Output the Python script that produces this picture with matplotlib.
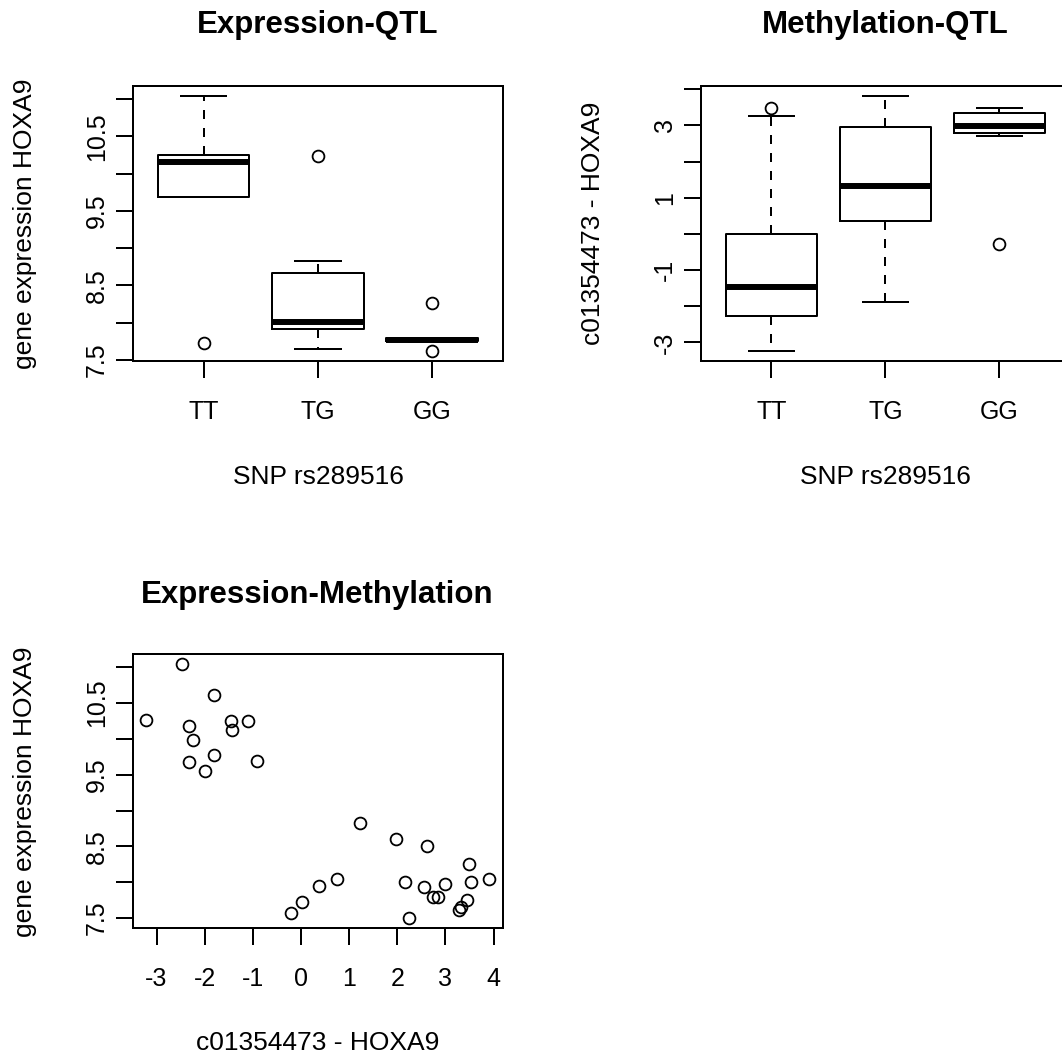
import matplotlib
matplotlib.use("Agg")
import matplotlib.pyplot as plt
import numpy as np

plt.rcParams['font.family'] = ['Liberation Sans', 'DejaVu Sans']

# ---------------- data ----------------
genotypes = ["TT", "TG", "GG"]

# Expression-QTL box statistics (gene expression HOXA9)
expr_whislo = [9.68, 7.65, 7.745]
expr_q1     = [9.68, 7.91, 7.75]
expr_med    = [10.16, 8.01, 7.77]
expr_q3     = [10.25, 8.66, 7.79]
expr_whishi = [11.04, 8.82, 7.795]
expr_fliers = [[7.72], [10.24], [8.26, 7.62]]

# Methylation-QTL box statistics (c01354473 - HOXA9)
meth_whislo = [-3.23, -1.88, 2.72]
meth_q1     = [-2.28, 0.35, 2.79]
meth_med    = [-1.47, 1.34, 2.99]
meth_q3     = [0.01, 2.96, 3.34]
meth_whishi = [3.25, 3.81, 3.47]
meth_fliers = [[3.47], [], [-0.27]]

# Expression vs methylation scatter
scatter_meth = [-3.21, -2.48, -2.33, -2.25, -2.33, -2.00, -1.81, -1.80, -1.45, -1.43,
                -1.10, -0.92, -0.21, 0.03, 0.37, 0.75, 1.23, 1.97, 2.15, 2.24,
                2.56, 2.62, 2.75, 2.85, 2.99, 3.28, 3.33, 3.44, 3.49, 3.53, 3.90]
scatter_expr = [10.26, 11.04, 10.18, 9.98, 9.68, 9.56, 10.62, 9.77, 10.25, 10.13,
                10.25, 9.69, 7.57, 7.72, 7.95, 8.04, 8.83, 8.60, 8.00, 7.50,
                7.94, 8.50, 7.79, 7.79, 7.98, 7.62, 7.65, 7.75, 8.26, 8.00, 8.05]

expr_ticks = [7.5, 8.0, 8.5, 9.0, 9.5, 10.0, 10.5, 11.0]
expr_ticklabels = ["7.5", "", "8.5", "", "9.5", "", "10.5", ""]
meth_ticks = [-3, -2, -1, 0, 1, 2, 3, 4]
meth_ticklabels = ["-3", "", "-1", "", "1", "", "3", ""]
scat_xticks = [-3, -2, -1, 0, 1, 2, 3, 4]
scat_xticklabels = ["-3", "-2", "-1", "0", "1", "2", "3", "4"]

titles = ["Expression-QTL", "Methylation-QTL", "Expression-Methylation"]
ylab_expr = "gene expression HOXA9"
lab_meth = "c01354473 - HOXA9"
xlab_snp = "SNP rs289516"

# ---------------- styling ----------------
W, H = 1062, 1056
fig = plt.figure(figsize=(W / 100, H / 100), dpi=100)
LW = 1.44
TITLE_FS = 22.5
LAB_FS = 19
TICK_FS = 18

def px_axes(left, top, right, bottom):
    return fig.add_axes([left / W, 1 - bottom / H, (right - left) / W, (bottom - top) / H])

def style_axes(ax):
    for s in ax.spines.values():
        s.set_linewidth(LW)
        s.set_color("black")
    ax.tick_params(axis="both", length=12, width=LW, color="black",
                   labelsize=TICK_FS)
    ax.tick_params(axis="x", pad=16)
    ax.tick_params(axis="y", pad=5, labelrotation=90)
    for lab in ax.get_yticklabels():
        lab.set_va("center")

def rlim(vals):
    lo, hi = min(vals), max(vals)
    r = hi - lo
    return lo - 0.04 * r, hi + 0.04 * r

def boxes(ax, wlo, q1, med, q3, whi, fl):
    stats = []
    for i in range(len(genotypes)):
        stats.append(dict(whislo=wlo[i], q1=q1[i], med=med[i], q3=q3[i],
                          whishi=whi[i], fliers=fl[i], label=genotypes[i]))
    ax.bxp(stats, positions=[1, 2, 3], widths=0.8, capwidths=0.4,
           patch_artist=False, showfliers=True,
           boxprops=dict(color="black", linewidth=LW),
           medianprops=dict(color="black", linewidth=4.3, solid_capstyle="butt"),
           whiskerprops=dict(color="black", linewidth=LW, linestyle=(0, (4.5, 4.5))),
           capprops=dict(color="black", linewidth=LW),
           flierprops=dict(marker="o", markerfacecolor="none", markeredgecolor="black",
                           markersize=8.5, markeredgewidth=1.3, linestyle="none"))
    ax.set_xlim(0.38, 3.62)
    ax.set_xticks([1, 2, 3])
    ax.set_xticklabels(genotypes)

def ftext(x, y, s, **kw):
    fig.text(x / W, 1 - y / H, s, **kw)

# Panel 1: Expression-QTL
ax1 = px_axes(132.7, 86, 503, 361)
boxes(ax1, expr_whislo, expr_q1, expr_med, expr_q3, expr_whishi, expr_fliers)
allv = expr_whislo + expr_whishi + sum(expr_fliers, [])
ax1.set_ylim(*rlim(allv))
ax1.set_yticks(expr_ticks)
ax1.set_yticklabels(expr_ticklabels)
style_axes(ax1)

# Panel 2: Methylation-QTL
ax2 = px_axes(700.7, 86, 1070, 361)
boxes(ax2, meth_whislo, meth_q1, meth_med, meth_q3, meth_whishi, meth_fliers)
allv = meth_whislo + meth_whishi + sum(meth_fliers, [])
ax2.set_ylim(*rlim(allv))
ax2.set_yticks(meth_ticks)
ax2.set_yticklabels(meth_ticklabels)
style_axes(ax2)

# Panel 3: scatter
ax3 = px_axes(132.7, 654.3, 502.5, 928.3)
ax3.plot(scatter_meth, scatter_expr, linestyle="none", marker="o",
         markerfacecolor="none", markeredgecolor="black", markersize=8.5,
         markeredgewidth=1.3)
ax3.set_xlim(*rlim(scatter_meth))
ax3.set_ylim(*rlim(scatter_expr))
ax3.set_xticks(scat_xticks)
ax3.set_xticklabels(scat_xticklabels)
ax3.set_yticks(expr_ticks)
ax3.set_yticklabels(expr_ticklabels)
style_axes(ax3)

# Titles
ftext(318, 33.3, titles[0], ha="center", va="baseline", fontsize=TITLE_FS, fontweight="bold")
ftext(885.4, 33.3, titles[1], ha="center", va="baseline", fontsize=TITLE_FS, fontweight="bold")
ftext(317.6, 603.3, titles[2], ha="center", va="baseline", fontsize=TITLE_FS, fontweight="bold")

# X labels
ftext(318, 484, xlab_snp, ha="center", va="baseline", fontsize=LAB_FS)
ftext(885.4, 484, xlab_snp, ha="center", va="baseline", fontsize=LAB_FS)
ftext(317.6, 1050, lab_meth, ha="center", va="baseline", fontsize=LAB_FS)

# Y labels
ftext(31.7, 223.5, ylab_expr, ha="center", va="baseline", rotation=90,
      rotation_mode="anchor", fontsize=LAB_FS)
ftext(599.7, 223.5, lab_meth, ha="center", va="baseline", rotation=90,
      rotation_mode="anchor", fontsize=LAB_FS)
ftext(31.7, 791.3, ylab_expr, ha="center", va="baseline", rotation=90,
      rotation_mode="anchor", fontsize=LAB_FS)

fig.savefig("out.png", dpi=100)
